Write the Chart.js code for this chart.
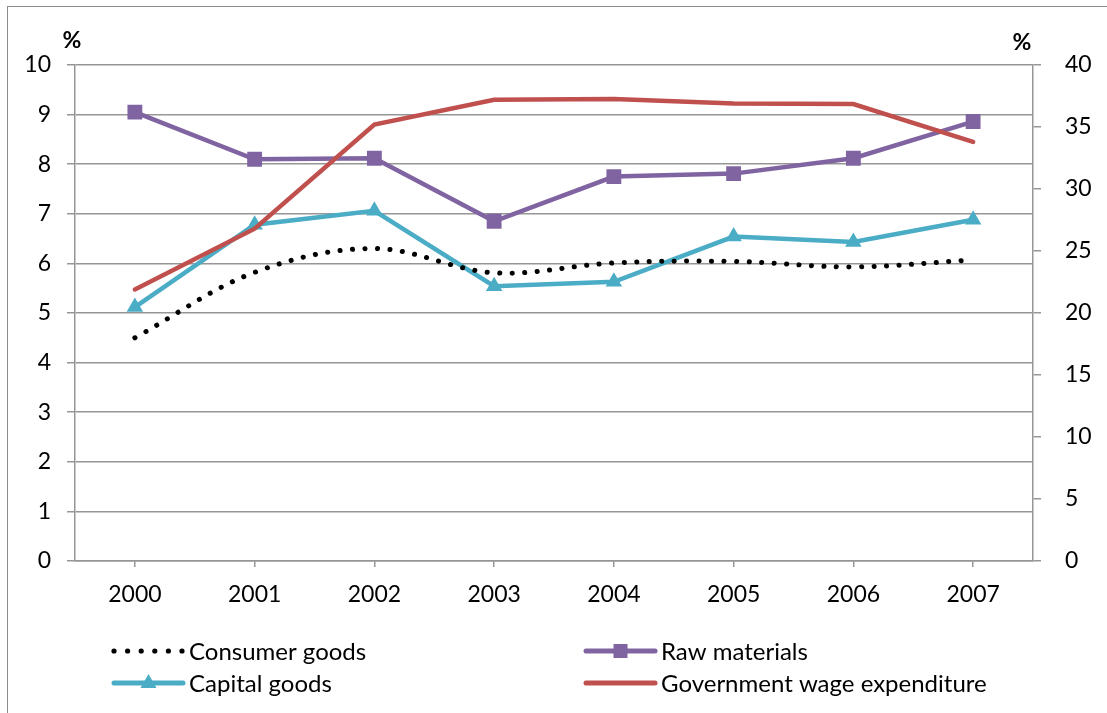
<!DOCTYPE html>
<html>
<head>
<meta charset="utf-8">
<script src="https://cdn.jsdelivr.net/npm/chart.js@4.4.0/dist/chart.umd.min.js"></script>
<style>
body { margin: 0; background: #fff; }
#wrap { position: relative; width: 1107px; height: 713px; }
</style>
</head>
<body>
<div id="wrap"><canvas id="chart"></canvas></div>
<script>
// Years on the x axis
const years = ['2000', '2001', '2002', '2003', '2004', '2005', '2006', '2007'];

// Left axis series (%)
const consumerGoods = [4.50, 5.82, 6.30, 5.81, 6.01, 6.04, 5.93, 6.07];
const rawMaterials = [9.05, 8.10, 8.12, 6.85, 7.75, 7.81, 8.12, 8.86];
const capitalGoods = [5.12, 6.78, 7.06, 5.54, 5.63, 6.54, 6.43, 6.88];

// Right axis series (%)
const govWageExpenditure = [21.9, 26.8, 35.2, 37.2, 37.25, 36.9, 36.85, 33.8];

const colors = {
  consumer: '#000000',
  raw: '#8064A2',
  capital: '#4BACC6',
  gov: '#C0504D',
  grid: '#969696',
  text: '#000000'
};

const FONT = "Lato, 'Liberation Sans', sans-serif";

// Legend drawn as two columns under the axis, plus the "%" unit labels
const extras = {
  id: 'extras',
  afterDraw(chart) {
    const ctx = chart.ctx;
    ctx.save();

    // outer frame
    ctx.strokeStyle = '#8c8c8c';
    ctx.lineWidth = 1;
    ctx.strokeRect(7.5, 6.5, 1200, 800);

    // unit labels
    ctx.fillStyle = colors.text;
    ctx.font = 'bold 23px ' + FONT;
    ctx.textAlign = 'center';
    ctx.textBaseline = 'middle';
    ctx.fillText('%', 72, 41);
    ctx.fillText('%', 1022, 43);

    // legend
    const items = [
      { label: 'Consumer goods', x: 112, y: 651, kind: 'dots', color: colors.consumer },
      { label: 'Raw materials', x: 584, y: 651, kind: 'rect', color: colors.raw },
      { label: 'Capital goods', x: 112, y: 683, kind: 'triangle', color: colors.capital },
      { label: 'Government wage expenditure', x: 584, y: 683, kind: 'line', color: colors.gov }
    ];
    const len = 73;
    items.forEach(it => {
      const x0 = it.x, x1 = it.x + len, y = it.y;
      ctx.fillStyle = it.color;
      ctx.strokeStyle = it.color;
      if (it.kind === 'dots') {
        for (let i = 0; i < 6; i++) {
          ctx.beginPath();
          ctx.arc(x0 + 2 + i * 13.6, y, 2.6, 0, Math.PI * 2);
          ctx.fill();
        }
      } else {
        ctx.lineWidth = 5;
        ctx.lineCap = 'round';
        ctx.beginPath();
        ctx.moveTo(x0 + 2, y);
        ctx.lineTo(x1 - 2, y);
        ctx.stroke();
        const cx = (x0 + x1) / 2;
        if (it.kind === 'rect') {
          ctx.fillRect(cx - 7, y - 7, 14, 14);
        } else if (it.kind === 'triangle') {
          ctx.beginPath();
          ctx.moveTo(cx, y - 9);
          ctx.lineTo(cx + 8, y + 5);
          ctx.lineTo(cx - 8, y + 5);
          ctx.closePath();
          ctx.fill();
        }
      }
      ctx.fillStyle = colors.text;
      ctx.font = '24px ' + FONT;
      ctx.textAlign = 'left';
      ctx.textBaseline = 'middle';
      ctx.fillText(it.label, x1 + 4, y + 1);
    });
    ctx.restore();
  }
};

new Chart(document.getElementById('chart'), {
  type: 'line',
  data: {
    labels: years,
    datasets: [
      {
        label: 'Consumer goods',
        data: consumerGoods,
        yAxisID: 'y',
        borderColor: colors.consumer,
        borderWidth: 5,
        borderDash: [0.1, 12.4],
        borderCapStyle: 'round',
        tension: 0.35,
        pointRadius: 0,
        order: 1
      },
      {
        label: 'Raw materials',
        data: rawMaterials,
        yAxisID: 'y',
        borderColor: colors.raw,
        backgroundColor: colors.raw,
        borderWidth: 4.5,
        pointStyle: 'rect',
        pointRadius: 10.5,
        pointBorderWidth: 0,
        order: 3
      },
      {
        label: 'Capital goods',
        data: capitalGoods,
        yAxisID: 'y',
        borderColor: colors.capital,
        backgroundColor: colors.capital,
        borderWidth: 4.5,
        pointStyle: 'triangle',
        pointRadius: 9.5,
        pointBorderWidth: 0,
        order: 2
      },
      {
        label: 'Government wage expenditure',
        data: govWageExpenditure,
        yAxisID: 'y1',
        borderColor: colors.gov,
        borderWidth: 4.5,
        borderCapStyle: 'round',
        pointRadius: 0,
        order: 0
      }
    ]
  },
  options: {
    responsive: true,
    maintainAspectRatio: false,
    animation: false,
    layout: { padding: { top: 65, bottom: 102, left: 0, right: 0 } },
    plugins: {
      legend: { display: false },
      tooltip: { enabled: false }
    },
    scales: {
      x: {
        offset: true,
        afterFit: s => { s.height = 50; },
        grid: {
          offset: false,
          drawOnChartArea: false,
          drawTicks: true,
          tickLength: 6,
          color: colors.grid,
          lineWidth: 1.5
        },
        border: { display: true, color: colors.grid, width: 1.5 },
        ticks: { color: colors.text, font: { family: FONT, size: 23 }, padding: 14, maxRotation: 0 }
      },
      y: {
        position: 'left',
        min: 0,
        max: 10,
        afterFit: s => { s.width = 75; },
        grid: { color: colors.grid, lineWidth: 1.5, tickLength: 8 },
        border: { display: true, color: colors.grid, width: 1.5 },
        ticks: { stepSize: 1, color: colors.text, font: { family: FONT, size: 23 }, padding: 16 }
      },
      y1: {
        position: 'right',
        min: 0,
        max: 40,
        afterFit: s => { s.width = 74; },
        grid: { drawOnChartArea: false, color: colors.grid, lineWidth: 1.5, tickLength: 8 },
        border: { display: true, color: colors.grid, width: 1.5 },
        ticks: { stepSize: 5, color: colors.text, font: { family: FONT, size: 23 }, padding: 24 }
      }
    }
  },
  plugins: [extras]
});
</script>
</body>
</html>
